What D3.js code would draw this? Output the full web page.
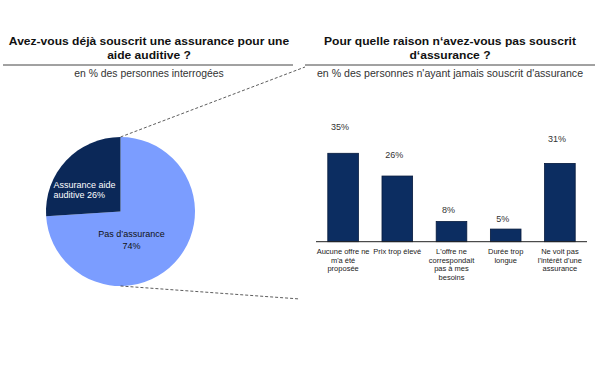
<!DOCTYPE html>
<html>
<head>
<meta charset="utf-8">
<script src="https://cdn.jsdelivr.net/npm/d3@7"></script>
<style>
  html, body { margin: 0; padding: 0; background: #fff; }
  svg { display: block; font-family: "Liberation Sans", Arial, sans-serif; }
</style>
</head>
<body>
<svg id="chart" width="600" height="384"></svg>
<script>
// ---- Data ----
const pieCategories = ["Pas d’assurance", "Assurance aide auditive"];
const pieValues = [74, 26];
const pieLabelLines = [["Pas d’assurance", "74%"], ["Assurance aide", "auditive 26%"]];

const barCategories = [
  "Aucune offre ne m'a été proposée",
  "Prix trop élevé",
  "L'offre ne correspondait pas à mes besoins",
  "Durée trop longue",
  "Ne voit pas l'intérêt d'une assurance"
];
const barLabelLines = [
  ["Aucune offre ne", "m'a été", "proposée"],
  ["Prix trop élevé"],
  ["L'offre ne", "correspondait", "pas à mes", "besoins"],
  ["Durée trop", "longue"],
  ["Ne voit pas", "l'intérêt d'une", "assurance"]
];
const barValues = [35, 26, 8, 5, 31];

const leftTitle = ["Avez-vous déjà souscrit une assurance pour une", "aide auditive ?"];
const leftSubtitle = "en % des personnes interrogées";
const rightTitle = ["Pour quelle raison n‘avez-vous pas souscrit", "d‘assurance ?"];
const rightSubtitle = "en % des personnes n'ayant jamais souscrit d'assurance";

// ---- Drawing ----
const svg = d3.select("#chart");
const dark = "#0b2858";
const light = "#7b9dff";
const barFill = "#0c2d61";

// Titles
function header(cx, x0, x1, title, sub, subSize) {
  const g = svg.append("g");
  title.forEach((t, i) => {
    g.append("text")
      .attr("transform", `translate(${cx},${45.3 + i * 13.3}) scale(1.15,1)`)
      .attr("text-anchor", "middle").attr("font-size", 10.5).attr("font-weight", "bold")
      .attr("fill", "#111").text(t);
  });
  g.append("line").attr("x1", x0).attr("x2", x1).attr("y1", 65).attr("y2", 65)
    .attr("stroke", "#444").attr("stroke-width", 1);
  g.append("text").attr("x", cx).attr("y", 76.8).attr("text-anchor", "middle")
    .attr("font-size", subSize).attr("fill", "#333").text(sub);
}
header(149, 3, 293, leftTitle, leftSubtitle, 10.4);
header(450, 305, 595, rightTitle, rightSubtitle, 10.6);

// Pie
const cx = 120.5, cy = 211.5, r = 74.5;
const pie = d3.pie().sort(null).startAngle(0).endAngle(2 * Math.PI);
const arcs = pie(pieValues);
const arc = d3.arc().innerRadius(0).outerRadius(r);
const pg = svg.append("g").attr("transform", `translate(${cx},${cy})`);
pg.selectAll("path").data(arcs).join("path")
  .attr("d", arc)
  .attr("fill", (d, i) => i === 0 ? light : dark);

// Connector dashed lines (from top and bottom of pie to bar chart area)
const connectors = [
  { from: [cx, cy - r], to: [305, 67] },
  { from: [cx, cy + r], to: [300, 299] }
];
svg.selectAll("line.conn").data(connectors).join("line")
  .attr("class", "conn")
  .attr("x1", d => d.from[0]).attr("y1", d => d.from[1])
  .attr("x2", d => d.to[0]).attr("y2", d => d.to[1])
  .attr("stroke", "#333").attr("stroke-width", 0.8).attr("stroke-dasharray", "3,2");

// Pie labels
const lab0 = svg.append("text").attr("font-size", 9).attr("fill", "#111").attr("text-anchor", "middle");
pieLabelLines[0].forEach((t, i) => {
  lab0.append("tspan").attr("x", 131.5).attr("y", 237.2 + i * 12.2).text(t);
});
const lab1 = svg.append("text").attr("font-size", 9).attr("fill", "#fff").attr("text-anchor", "start");
pieLabelLines[1].forEach((t, i) => {
  lab1.append("tspan").attr("x", 53.5).attr("y", 187.5 + i * 10.7).text(t);
});

// Bar chart
const x = d3.scaleBand().domain(barCategories).range([316, 587])
  .paddingInner(0.435).paddingOuter(0.2175);
const y = d3.scaleLinear().domain([0, 35]).range([241.7, 153.3]);
const labelY = d3.scaleLinear().domain([0, 35]).range([234.4, 127]);

const bg = svg.append("g");
bg.selectAll("rect").data(barValues).join("rect")
  .attr("x", (d, i) => x(barCategories[i]))
  .attr("y", d => y(d))
  .attr("width", x.bandwidth())
  .attr("height", d => y(0) - y(d))
  .attr("fill", barFill)
  .attr("stroke", "#061a3d").attr("stroke-width", 0.8);

bg.append("line").attr("x1", 316).attr("x2", 587)
  .attr("y1", y(0)).attr("y2", y(0))
  .attr("stroke", "#222").attr("stroke-width", 1);

bg.selectAll("text.val").data(barValues).join("text")
  .attr("class", "val")
  .attr("x", (d, i) => x(barCategories[i]) + x.bandwidth() / 2 - 3)
  .attr("y", d => labelY(d) + 3.2)
  .attr("text-anchor", "middle").attr("font-size", 9).attr("fill", "#333")
  .text(d => d + "%");

barLabelLines.forEach((lines, i) => {
  const t = bg.append("text").attr("text-anchor", "middle").attr("font-size", 7.5).attr("fill", "#222");
  lines.forEach((ln, j) => {
    t.append("tspan").attr("x", x(barCategories[i]) + x.bandwidth() / 2)
      .attr("y", 254.3 + j * 8.5).text(ln);
  });
});
</script>
</body>
</html>
